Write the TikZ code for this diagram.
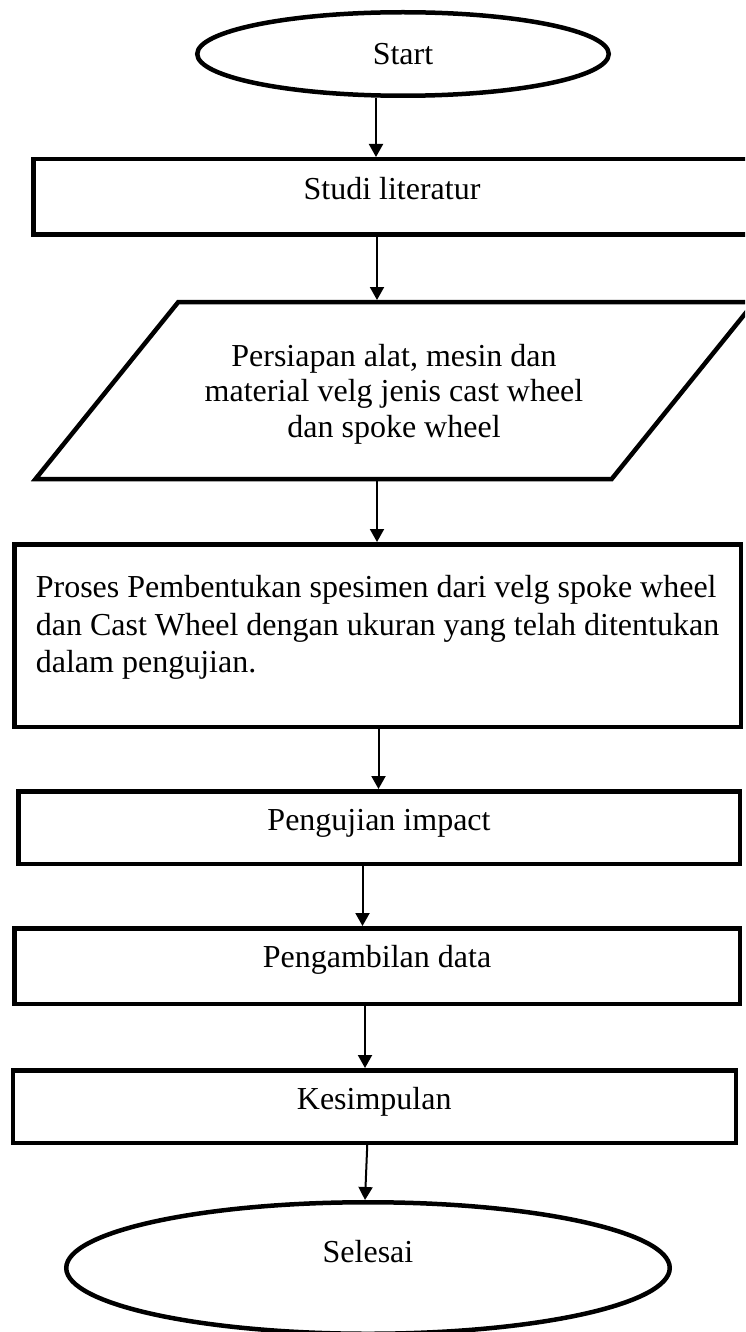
\documentclass[tikz,border=0pt]{standalone}
\usepackage{fontspec}
\setmainfont{Liberation Serif}
\usetikzlibrary{shapes.geometric,arrows.meta}
\begin{document}
\begin{tikzpicture}[join=miter,x=1pt,y=-1pt]
\tikzstyle{bloc} = [draw,line width=4.5pt,font=\fontsize{32}{35.5}\selectfont,inner sep=0pt,text height=22pt]
\tikzstyle{terminal} = [bloc,ellipse]
\tikzstyle{boite} = [bloc,rectangle]
\tikzstyle{fleche} = [line width=2pt,-{Triangle[length=13pt,width=14pt]}]
%cadre de la page
\useasboundingbox (0,0) rectangle (745,1332);
\clip (0,0) rectangle (745,1332);
%début
\node[terminal,minimum width=411.5pt,minimum height=83.5pt,text depth=0pt](start) at (403,54){Start};
%étude
\node[boite,minimum width=717.5pt,minimum height=75.5pt,text depth=16pt](studi) at (392,197){Studi literatur};
%préparation (parallélogramme)
\node[font=\fontsize{32}{35.5}\selectfont,align=center,inner sep=0pt,text height=93pt,text depth=0pt](persiapan) at (394,390.5){Persiapan alat, mesin dan\\material velg jenis cast wheel\\dan spoke wheel};
\draw[line width=4.5pt] (178.3,302)--(754.5,302)--(611.7,479)--(35.5,479)--cycle;
\coordinate (ptop) at (377,300);
\coordinate (pbot) at (377,481);
%fabrication des éprouvettes
\node[boite,minimum width=726.5pt,minimum height=182.5pt,align=left,font=\fontsize{32}{37.7}\selectfont,text height=97.4pt,text depth=23pt](proses) at (377.5,635.5){Proses Pembentukan spesimen dari velg spoke wheel\\dan Cast Wheel dengan ukuran yang telah ditentukan\\dalam pengujian.};
%essais
\node[boite,minimum width=721.5pt,minimum height=72.5pt,text depth=15.6pt](pengujian) at (379,827.5){Pengujian impact};
\node[boite,minimum width=725.5pt,minimum height=75.5pt,text depth=19.4pt](pengambilan) at (377,966){Pengambilan data};
\node[boite,minimum width=723pt,minimum height=72.5pt,text depth=16.4pt](kesimpulan) at (374.25,1106.5){Kesimpulan};
%fin
\node[terminal,minimum width=603.5pt,minimum height=131.5pt,text depth=32.6pt](selesai) at (368,1268){Selesai};
%tracer les flèches
\draw[fleche] ([xshift=-27pt]start.south)--([xshift=-27pt]start.south |- studi.north);
\draw[fleche] ([xshift=-15pt]studi.south)--(ptop);
\draw[fleche] (pbot)--(pbot |- proses.north);
\draw[fleche] ([xshift=1pt]proses.south)--([xshift=1pt]proses.south |- pengujian.north);
\draw[fleche] ([xshift=-16.5pt]pengujian.south)--([xshift=-16.5pt]pengujian.south |- pengambilan.north);
\draw[fleche] ([xshift=-12pt]pengambilan.south)--([xshift=-12pt]pengambilan.south |- kesimpulan.north);
\draw[fleche] ([xshift=-7pt]kesimpulan.south)--([xshift=-3pt]selesai.north);
\end{tikzpicture}
\end{document}
